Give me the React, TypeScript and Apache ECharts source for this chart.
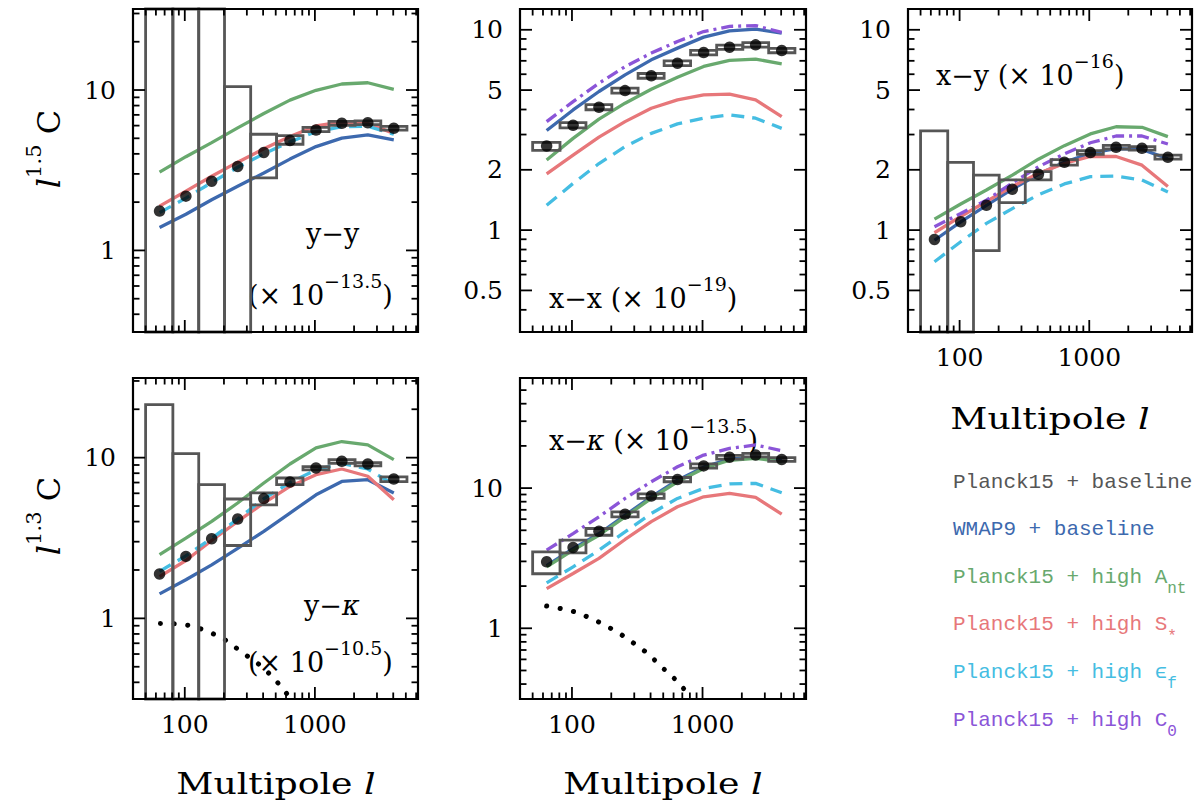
import React, { useEffect, useRef } from "react";
import * as echarts from "echarts";

// ---- multipole binning shared by all panels ----
const L_MIN = 40;
const L_MAX = 6200;
const binCenters = [64, 102, 161, 255, 405, 643, 1020, 1610, 2550, 4040];
const binEdges = [50, 81, 128, 202, 321, 508, 810, 1283, 2035, 3210, 5100];

// ---- axis ticks ----
const xMajorTicks = [100, 1000];
const xMinorTicks = [50, 60, 70, 80, 90, 200, 300, 400, 500, 600, 700, 800, 900, 2000, 3000, 4000, 5000, 6000];
const xTickLabels = [100, 1000];

const yMajorDecade = [1, 10];
const yMinorDecade = [0.4, 0.5, 0.6, 0.7, 0.8, 0.9, 2, 3, 4, 5, 6, 7, 8, 9, 20, 30];
const yMinorDecadeTall = [0.4, 0.5, 0.6, 0.7, 0.8, 0.9, 2, 3, 4, 5, 6, 7, 8, 9, 20, 30, 40, 50];
const yLabelsDecade = [1, 10];
const yMajorFine = [0.5, 1, 2, 5, 10];
const yMinorFine = [0.4, 0.6, 0.7, 0.8, 0.9, 3, 4, 6, 7, 8, 9];
const yLabelsFine = [0.5, 1, 2, 5, 10];

// ---- y−y ----
const yyPoints = [1.76, 2.18, 2.7, 3.34, 4.08, 4.84, 5.63, 6.2, 6.25, 5.77];
const yyBoxLo = [0.1, 0.1, 0.1, 0.1, 2.83, 4.59, 5.5, 6.03, 6.08, 5.62];
const yyBoxHi = [100, 100, 100, 10.5, 5.3, 5.2, 5.85, 6.38, 6.43, 5.93];
const yyWmap = [1.39, 1.68, 2.07, 2.51, 3.04, 3.71, 4.44, 5.01, 5.25, 4.89];
const yyAnt = [3.08, 3.84, 4.7, 5.81, 7.14, 8.65, 9.96, 10.9, 11.1, 10.1];
const yySstar = [1.89, 2.34, 2.9, 3.55, 4.3, 5.13, 5.97, 6.34, 6.19, 5.37];
const yyEpsf = [1.72, 2.12, 2.65, 3.3, 4.0, 4.75, 5.5, 5.9, 5.95, 5.3];

// ---- x−x ----
const xxPoints = [2.63, 3.34, 4.11, 4.97, 5.89, 6.81, 7.7, 8.19, 8.41, 7.88];
const xxBoxLo = [2.5, 3.24, 3.99, 4.83, 5.73, 6.63, 7.5, 7.99, 8.2, 7.68];
const xxBoxHi = [2.74, 3.44, 4.23, 5.11, 6.05, 6.99, 7.9, 8.39, 8.62, 8.08];
const xxWmap = [3.14, 3.98, 4.92, 5.96, 7.08, 8.1, 9.19, 9.88, 10.08, 9.62];
const xxAnt = [2.24, 2.87, 3.58, 4.3, 5.05, 5.8, 6.56, 7.03, 7.14, 6.76];
const xxSstar = [1.91, 2.37, 2.91, 3.48, 4.06, 4.47, 4.73, 4.77, 4.47, 3.69];
const xxEpsf = [1.33, 1.71, 2.15, 2.61, 3.04, 3.39, 3.62, 3.76, 3.62, 3.22];
const xxC0 = [3.48, 4.38, 5.41, 6.55, 7.65, 8.74, 9.8, 10.4, 10.5, 9.7];

// ---- x−y ----
const xyPoints = [0.898, 1.1, 1.33, 1.6, 1.9, 2.18, 2.44, 2.59, 2.56, 2.31];
const xyBoxLo = [0.1, 0.1, 0.79, 1.37, 1.78, 2.11, 2.39, 2.54, 2.51, 2.26];
const xyBoxHi = [3.13, 2.18, 1.88, 1.78, 1.96, 2.25, 2.49, 2.65, 2.61, 2.37];
const xyWmap = [0.89, 1.1, 1.33, 1.6, 1.9, 2.18, 2.42, 2.55, 2.53, 2.27];
const xyAnt = [1.135, 1.35, 1.585, 1.88, 2.26, 2.64, 3.02, 3.28, 3.26, 2.93];
const xySstar = [0.97, 1.17, 1.39, 1.65, 1.92, 2.15, 2.33, 2.33, 2.11, 1.65];
const xyEpsf = [0.695, 0.875, 1.08, 1.28, 1.5, 1.7, 1.85, 1.86, 1.78, 1.55];
const xyC0 = [1.04, 1.21, 1.41, 1.72, 2.07, 2.4, 2.73, 2.95, 2.95, 2.69];

// ---- y−κ ----
const ykPoints = [1.89, 2.43, 3.13, 4.15, 5.56, 7.06, 8.63, 9.49, 9.14, 7.36];
const ykBoxLo = [0.1, 0.1, 0.1, 2.84, 5.09, 6.79, 8.4, 9.2, 8.9, 7.1];
const ykBoxHi = [21.4, 10.6, 6.79, 5.53, 6.03, 7.47, 8.8, 9.7, 9.3, 7.6];
const ykWmap = [1.42, 1.74, 2.15, 2.73, 3.48, 4.52, 5.87, 7.11, 7.29, 6.03];
const ykAnt = [2.49, 3.16, 4.01, 5.22, 6.95, 9.13, 11.5, 12.6, 12.0, 9.72];
const ykSstar = [1.82, 2.29, 3.05, 4.01, 5.22, 6.62, 7.83, 8.5, 7.66, 5.47];
const ykEpsf = [1.96, 2.45, 3.15, 4.15, 5.55, 7.0, 8.4, 9.2, 8.5, 6.8];
const ykDottedL = [65, 84, 111, 138, 178, 218, 271, 330, 404, 486, 579, 650];
const ykDottedC = [0.93, 0.925, 0.9, 0.85, 0.78, 0.71, 0.62, 0.555, 0.49, 0.42, 0.36, 0.31];

// ---- x−κ ----
const xkPoints = [2.98, 3.77, 4.93, 6.52, 8.77, 11.5, 14.4, 16.6, 17.2, 16.0];
const xkBoxLo = [2.45, 3.45, 4.61, 6.24, 8.45, 11.1, 13.9, 16.1, 16.7, 15.5];
const xkBoxHi = [3.51, 4.25, 5.15, 6.77, 9.1, 11.9, 14.9, 17.1, 17.7, 16.5];
const xkWmap = [2.8, 3.7, 4.72, 6.4, 8.65, 11.4, 14.1, 16.1, 16.6, 15.7];
const xkAnt = [2.74, 3.61, 4.61, 6.24, 8.44, 11.1, 13.8, 15.8, 16.3, 15.4];
const xkSstar = [1.92, 2.46, 3.15, 4.3, 5.76, 7.36, 8.67, 9.16, 8.58, 6.52];
const xkEpsf = [2.11, 2.74, 3.61, 4.87, 6.59, 8.44, 9.95, 10.7, 10.8, 9.26];
const xkC0 = [3.61, 4.74, 6.24, 8.44, 11.1, 14.2, 17.2, 19.2, 20.3, 18.5];
const xkDottedL = [64, 82, 105, 133, 166, 209, 258, 316, 389, 465, 561, 670, 790];
const xkDottedC = [1.44, 1.38, 1.31, 1.2, 1.09, 0.97, 0.86, 0.75, 0.65, 0.55, 0.47, 0.4, 0.33];

// ---- legend ----
const legendMain = [
  "Planck15 + baseline",
  "WMAP9 + baseline",
  "Planck15 + high A",
  "Planck15 + high S",
  "Planck15 + high ϵ",
  "Planck15 + high C",
];
const legendSub = ["", "", "nt", "*", "f", "0"];

const GRAY = "#565656";
const BLUE = "#3d69ae";
const GREEN = "#68a96e";
const RED = "#e7777a";
const CYAN = "#45bde2";
const PURPLE = "#8b55d8";
const legendColors = [GRAY, BLUE, GREEN, RED, CYAN, PURPLE];

const SERIF = '"DejaVu Serif", serif';
const MONO = '"Liberation Mono", "DejaVu Sans Mono", monospace';

const DASHED = [13, 8];
const DASH_DOT = [12, 5, 3, 5];

type LineDef = { values: number[]; color: string; dash?: number[] };
type Panel = {
  rect: [number, number, number, number];
  yMin: number;
  yMax: number;
  yMajor: number[];
  yMinor: number[];
  yLabels: number[];
  showX: boolean;
  points: number[];
  boxLo: number[];
  boxHi: number[];
  lines: LineDef[];
  dotted?: { l: number[]; c: number[] };
};

const panels: Panel[] = [
  {
    rect: [133, 9, 285, 323], yMin: 0.31, yMax: 32,
    yMajor: yMajorDecade, yMinor: yMinorDecade, yLabels: yLabelsDecade, showX: false,
    points: yyPoints, boxLo: yyBoxLo, boxHi: yyBoxHi,
    lines: [
      { values: yyWmap, color: BLUE },
      { values: yyAnt, color: GREEN },
      { values: yySstar, color: RED },
      { values: yyEpsf, color: CYAN, dash: DASHED },
    ],
  },
  {
    rect: [520, 9, 286, 323], yMin: 0.31, yMax: 12.7,
    yMajor: yMajorFine, yMinor: yMinorFine, yLabels: yLabelsFine, showX: false,
    points: xxPoints, boxLo: xxBoxLo, boxHi: xxBoxHi,
    lines: [
      { values: xxWmap, color: BLUE },
      { values: xxAnt, color: GREEN },
      { values: xxSstar, color: RED },
      { values: xxEpsf, color: CYAN, dash: DASHED },
      { values: xxC0, color: PURPLE, dash: DASH_DOT },
    ],
  },
  {
    rect: [908, 9, 284, 323], yMin: 0.31, yMax: 12.7,
    yMajor: yMajorFine, yMinor: yMinorFine, yLabels: yLabelsFine, showX: true,
    points: xyPoints, boxLo: xyBoxLo, boxHi: xyBoxHi,
    lines: [
      { values: xyWmap, color: BLUE },
      { values: xyAnt, color: GREEN },
      { values: xySstar, color: RED },
      { values: xyEpsf, color: CYAN, dash: DASHED },
      { values: xyC0, color: PURPLE, dash: DASH_DOT },
    ],
  },
  {
    rect: [133, 378, 285, 321], yMin: 0.315, yMax: 31.3,
    yMajor: yMajorDecade, yMinor: yMinorDecade, yLabels: yLabelsDecade, showX: true,
    points: ykPoints, boxLo: ykBoxLo, boxHi: ykBoxHi,
    lines: [
      { values: ykWmap, color: BLUE },
      { values: ykAnt, color: GREEN },
      { values: ykSstar, color: RED },
      { values: ykEpsf, color: CYAN, dash: DASHED },
    ],
    dotted: { l: ykDottedL, c: ykDottedC },
  },
  {
    rect: [520, 378, 286, 321], yMin: 0.313, yMax: 61,
    yMajor: yMajorDecade, yMinor: yMinorDecadeTall, yLabels: yLabelsDecade, showX: true,
    points: xkPoints, boxLo: xkBoxLo, boxHi: xkBoxHi,
    lines: [
      { values: xkWmap, color: BLUE },
      { values: xkAnt, color: GREEN },
      { values: xkSstar, color: RED },
      { values: xkEpsf, color: CYAN, dash: DASHED },
      { values: xkC0, color: PURPLE, dash: DASH_DOT },
    ],
    dotted: { l: xkDottedL, c: xkDottedC },
  },
];

const TICK_MAJOR = 12;
const TICK_MINOR = 6.5;
const LABEL_FONT = 25;

function frameSeries(p: Panel, i: number) {
  return {
    type: "custom",
    xAxisIndex: i,
    yAxisIndex: i,
    silent: true,
    z: 6,
    encode: { x: 0, y: 1 },
    data: [[L_MIN, p.yMin]],
    renderItem: (params: any, api: any) => {
      const cs = params.coordSys;
      const left = cs.x;
      const top = cs.y;
      const right = cs.x + cs.width;
      const bottom = cs.y + cs.height;
      const children: any[] = [];
      const seg = (x1: number, y1: number, x2: number, y2: number) => ({
        type: "line",
        shape: { x1, y1, x2, y2 },
        style: { stroke: "#000", lineWidth: 1.8 },
      });
      const xTick = (v: number, len: number) => {
        const px = api.coord([v, p.yMin])[0];
        children.push(seg(px, bottom, px, bottom - len));
        children.push(seg(px, top, px, top + len));
      };
      const yTick = (v: number, len: number) => {
        const py = api.coord([L_MIN, v])[1];
        children.push(seg(left, py, left + len, py));
        children.push(seg(right, py, right - len, py));
      };
      xMajorTicks.forEach((v) => xTick(v, TICK_MAJOR));
      xMinorTicks.forEach((v) => xTick(v, TICK_MINOR));
      p.yMajor.forEach((v) => yTick(v, TICK_MAJOR));
      p.yMinor.forEach((v) => yTick(v, TICK_MINOR));
      children.push({
        type: "rect",
        shape: { x: left, y: top, width: cs.width, height: cs.height },
        style: { fill: "none", stroke: "#000", lineWidth: 2.2 },
      });
      const label = (text: string, x: number, y: number, align: string) => ({
        type: "text",
        x,
        y,
        style: {
          text,
          fill: "#000",
          fontSize: LABEL_FONT,
          fontFamily: SERIF,
          align,
          verticalAlign: "middle",
          textAlign: align,
          textVerticalAlign: "middle",
        },
      });
      p.yLabels.forEach((v) => {
        const py = api.coord([L_MIN, v])[1];
        children.push(label(String(v), left - 17, py, "right"));
      });
      if (p.showX) {
        xTickLabels.forEach((v) => {
          const px = api.coord([v, p.yMin])[0];
          children.push(label(String(v), px, bottom + 25, "center"));
        });
      }
      return { type: "group", children };
    },
  };
}

function boxSeries(p: Panel, i: number) {
  const data = binCenters.map((_, k) => [binEdges[k], binEdges[k + 1], p.boxLo[k], p.boxHi[k]]);
  return {
    type: "custom",
    xAxisIndex: i,
    yAxisIndex: i,
    silent: true,
    z: 3,
    encode: { x: [0, 1], y: [2, 3] },
    data,
    renderItem: (params: any, api: any) => {
      const cs = params.coordSys;
      const a = api.coord([api.value(0), api.value(3)]);
      const b = api.coord([api.value(1), api.value(2)]);
      const top = Math.max(a[1], cs.y);
      const bottom = Math.min(b[1], cs.y + cs.height);
      return {
        type: "rect",
        shape: { x: a[0], y: top, width: b[0] - a[0], height: bottom - top },
        style: { fill: "none", stroke: GRAY, lineWidth: 2.8 },
      };
    },
  };
}

function buildOption() {
  const grid = panels.map((p) => ({
    left: p.rect[0],
    top: p.rect[1],
    width: p.rect[2],
    height: p.rect[3],
    show: false,
    containLabel: false,
  }));
  const xAxis = panels.map((_, i) => ({
    type: "log",
    logBase: 10,
    gridIndex: i,
    min: L_MIN,
    max: L_MAX,
    show: false,
  }));
  const yAxis = panels.map((p, i) => ({
    type: "log",
    logBase: 10,
    gridIndex: i,
    min: p.yMin,
    max: p.yMax,
    show: false,
  }));

  const series: any[] = [];
  panels.forEach((p, i) => {
    p.lines.forEach((ln) => {
      series.push({
        type: "line",
        xAxisIndex: i,
        yAxisIndex: i,
        silent: true,
        z: 2,
        symbol: "none",
        showSymbol: false,
        data: binCenters.map((l, k) => [l, ln.values[k]]),
        lineStyle: { color: ln.color, width: 3.3, type: ln.dash ?? "solid" },
      });
    });
    if (p.dotted) {
      const d = p.dotted;
      series.push({
        type: "line",
        xAxisIndex: i,
        yAxisIndex: i,
        silent: true,
        z: 2,
        symbol: "none",
        showSymbol: false,
        smooth: 0.3,
        data: d.l.map((l, k) => [l, d.c[k]]),
        lineStyle: { color: "#000", width: 5, type: [0.1, 13.5], cap: "round" },
      });
    }
    series.push(boxSeries(p, i));
    series.push({
      type: "scatter",
      xAxisIndex: i,
      yAxisIndex: i,
      silent: true,
      z: 4,
      symbol: "circle",
      symbolSize: 11.5,
      data: binCenters.map((l, k) => [l, p.points[k]]),
      itemStyle: { color: "#000" },
    });
    series.push(frameSeries(p, i));
  });

  // panel annotations: superscript sits ~9px above the main text centre
  const annoRich = {
    m: { fontSize: 27, fontFamily: SERIF, fill: "#000", lineHeight: 37, verticalAlign: "bottom" },
    k: { fontSize: 27, fontFamily: SERIF, fontStyle: "italic", fill: "#000", lineHeight: 37, verticalAlign: "bottom" },
    s: { fontSize: 19, fontFamily: SERIF, fill: "#000", lineHeight: 19, verticalAlign: "top" },
  };
  const anno = (text: string, x: number, y: number) => ({
    type: "text",
    x,
    y,
    silent: true,
    style: {
      text,
      rich: annoRich,
      align: "left",
      verticalAlign: "middle",
      textAlign: "left",
      textVerticalAlign: "middle",
    },
  });

  const titleRich = {
    i: { fontSize: 32, fontFamily: SERIF, fontStyle: "italic", fill: "#000", lineHeight: 42, verticalAlign: "bottom" },
    s: { fontSize: 21, fontFamily: SERIF, fill: "#000", lineHeight: 21, verticalAlign: "top" },
    m: { fontSize: 32, fontFamily: SERIF, fill: "#000", lineHeight: 42, verticalAlign: "bottom" },
  };
  const yTitle = (power: string, x: number, y: number) => ({
    type: "text",
    x,
    y,
    rotation: Math.PI / 2,
    silent: true,
    style: {
      text: `{i|l}{s|${power}}{m| C}`,
      rich: titleRich,
      align: "center",
      verticalAlign: "middle",
      textAlign: "center",
      textVerticalAlign: "middle",
    },
  });

  const xRich = {
    m: { fontSize: 29, fontFamily: SERIF, fill: "#000" },
    i: { fontSize: 29, fontFamily: SERIF, fontStyle: "italic", fill: "#000" },
  };
  const xTitle = (x: number, y: number) => ({
    type: "text",
    x,
    y,
    scaleX: 1.25,
    silent: true,
    style: {
      text: "{m|Multipole }{i|l}",
      rich: xRich,
      align: "center",
      verticalAlign: "middle",
      textAlign: "center",
      textVerticalAlign: "middle",
    },
  });

  const legend = legendMain.map((txt, k) => {
    const c = legendColors[k];
    const sub = legendSub[k];
    return {
      type: "text",
      x: 953,
      y: 482 + k * 47.6,
      silent: true,
      style: {
        text: sub ? `{a|${txt}}{b|${sub}}` : `{a|${txt}}`,
        rich: {
          a: { fontSize: 21, fontFamily: MONO, fill: c, lineHeight: 40 },
          b: { fontSize: 16, fontFamily: MONO, fill: c, lineHeight: 16, verticalAlign: "bottom" },
        },
        align: "left",
        verticalAlign: "middle",
        textAlign: "left",
        textVerticalAlign: "middle",
      },
    };
  });

  const graphic = [
    anno("{m|y−y}", 306, 228),
    anno("{m|(× 10}{s|−13.5}{m|)}", 248, 290),
    anno("{m|x−x (× 10}{s|−19}{m|)}", 549, 293),
    anno("{m|x−y (× 10}{s|−16}{m|)}", 936, 70),
    anno("{m|y−}{k|κ}", 304, 600),
    anno("{m|(× 10}{s|−10.5}{m|)}", 248, 657),
    anno("{m|x−}{k|κ}{m| (× 10}{s|−13.5}{m|)}", 549, 435),
    yTitle("1.5", 44, 149),
    yTitle("1.3", 44, 516),
    xTitle(276, 784),
    xTitle(663, 784),
    xTitle(1050, 419),
    ...legend,
  ];

  return {
    animation: false,
    backgroundColor: "#fff",
    grid,
    xAxis,
    yAxis,
    series,
    graphic,
  };
}

export default function App() {
  const ref = useRef<HTMLDivElement>(null);
  useEffect(() => {
    document.body.style.margin = "0";
    const chart = echarts.init(ref.current!, undefined, { renderer: "svg" });
    chart.setOption(buildOption() as any);
    return () => chart.dispose();
  }, []);
  return <div ref={ref} style={{ width: 1196, height: 807 }} />;
}
